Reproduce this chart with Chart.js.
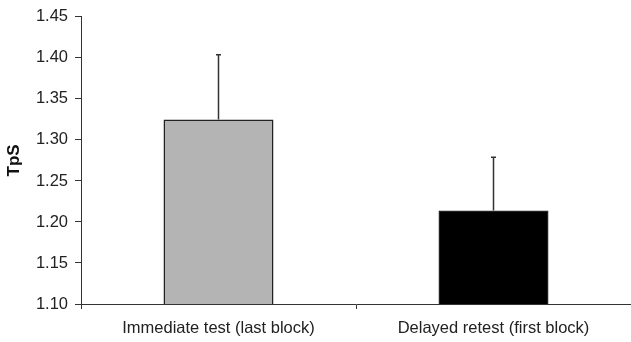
<!DOCTYPE html>
<html>
<head>
<meta charset="utf-8">
<script src="https://cdn.jsdelivr.net/npm/chart.js@4"></script>
<style>
  html, body { margin: 0; padding: 0; background: #fff; }
  #wrap { width: 631px; height: 342px; position: relative; }
</style>
</head>
<body>
<div id="wrap"><canvas id="myChart"></canvas></div>
<script>
const labels = ['Immediate test (last block)', 'Delayed retest (first block)'];
const means = [1.325, 1.214];
const errUp = [0.079, 0.065];
const barColors = ['#b4b4b4', '#000000'];

// upper error bars drawn from the bar scale
const errorBars = {
  id: 'errorBars',
  afterDatasetsDraw(chart) {
    const ctx = chart.ctx;
    const meta = chart.getDatasetMeta(0);
    const y = chart.scales.y;
    ctx.save();
    ctx.strokeStyle = '#333';
    ctx.lineWidth = 1.5;
    meta.data.forEach((bar, i) => {
      const top = y.getPixelForValue(means[i] + errUp[i]);
      const base = y.getPixelForValue(means[i]);
      ctx.beginPath();
      ctx.moveTo(bar.x, base);
      ctx.lineTo(bar.x, top);
      ctx.moveTo(bar.x - 2.5, top);
      ctx.lineTo(bar.x + 2.5, top);
      ctx.stroke();
    });
    ctx.restore();
  }
};

const ctx = document.getElementById('myChart');

new Chart(ctx, {
  type: 'bar',
  data: {
    labels: labels,
    datasets: [{
      data: means,
      backgroundColor: barColors,
      borderColor: '#222',
      borderWidth: 1.5,
      barPercentage: 0.4,
      categoryPercentage: 1
    }]
  },
  options: {
    responsive: true,
    maintainAspectRatio: false,
    animation: false,
    layout: { padding: { top: 15, right: 0, left: 0, bottom: 0 } },
    plugins: {
      legend: { display: false },
      tooltip: { enabled: false }
    },
    scales: {
      y: {
        min: 1.10,
        max: 1.45,
        ticks: {
          stepSize: 0.05,
          color: '#222',
          padding: 7,
          font: { family: 'Liberation Sans, Arial', size: 16.5 },
          callback: v => v.toFixed(2)
        },
        grid: { drawOnChartArea: false, drawTicks: true, tickLength: 6, color: '#333' },
        border: { color: '#333', width: 1 },
        title: {
          display: true,
          text: 'TpS',
          color: '#111',
          padding: 4,
          font: { family: 'Liberation Sans, Arial', size: 17, weight: 'bold' }
        },
        afterFit: s => { s.width = 81; }
      },
      x: {
        ticks: {
          color: '#222',
          padding: 10,
          font: { family: 'Liberation Sans, Arial', size: 16.5 },
          maxRotation: 0,
          autoSkip: false
        },
        grid: { offset: true, drawOnChartArea: false, drawTicks: true, tickLength: 5, color: '#333' },
        border: { color: '#333', width: 1 },
        afterFit: s => { s.height = 38; }
      }
    }
  },
  plugins: [errorBars]
});
</script>
</body>
</html>
